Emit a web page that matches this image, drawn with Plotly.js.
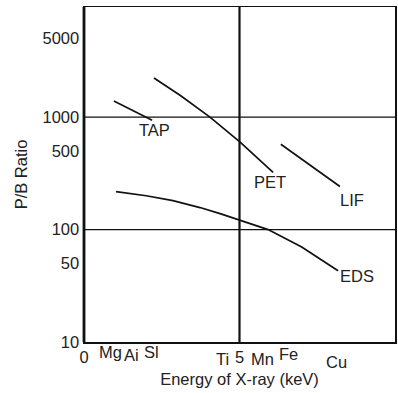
<!DOCTYPE html>
<html><head><meta charset="utf-8">
<script src="https://cdn.plot.ly/plotly-3.0.1.min.js"></script>
<style>html,body{margin:0;padding:0;background:#fff}#c{width:398px;height:393px}</style>
</head><body><div id="c"></div>
<script>
// Data
const tapX = [0.96, 2.19];
const tapY = [1390, 940];
const petX = [2.25, 3.1, 4.05, 5.02, 6.08];
const petY = [2230, 1560, 1000, 600, 323];
const lifX = [6.33, 8.23];
const lifY = [574, 242];
const edsX = [1.03, 2.0, 2.86, 3.73, 4.4, 5.05, 5.92, 7.0, 8.17];
const edsY = [218, 200, 181, 157, 138, 120, 100, 70, 43];
const yTickVals = [10, 50, 100, 500, 1000, 5000];
const xTickVals = [0, 5, 10];
const elements = ["Mg", "Ai", "Sl", "Ti", "Mn", "Fe", "Cu"];
const elementX = [0.84, 1.54, 2.16, 4.44, 5.75, 6.56, 8.13];
const elementYOffset = [-0.030, -0.040, -0.030, -0.051, -0.051, -0.036, -0.06];
const curveLabels = ["TAP", "PET", "LIF", "EDS"];
const curveLabelX = [2.28, 5.98, 8.62, 8.78];
const curveLabelY = [766, 263, 185, 39];

const lineStyle = {color: '#111', width: 1.7};
const traces = [
  {x: tapX, y: tapY, mode: 'lines', line: lineStyle, name: 'TAP'},
  {x: petX, y: petY, mode: 'lines', line: lineStyle, name: 'PET'},
  {x: lifX, y: lifY, mode: 'lines', line: lineStyle, name: 'LIF'},
  {x: edsX, y: edsY, mode: 'lines', line: lineStyle, name: 'EDS'}
];
const fam = 'Liberation Sans, Arial, sans-serif';
const font = {family: fam, size: 16.5, color: '#222'};
const annotations = [];
elements.forEach((e, i) => annotations.push({
  x: elementX[i], y: elementYOffset[i], xref: 'x', yref: 'paper', text: e,
  showarrow: false, font: font, xanchor: 'center', yanchor: 'middle'
}));
curveLabels.forEach((t, i) => annotations.push({
  x: curveLabelX[i], y: Math.log10(curveLabelY[i]), xref: 'x', yref: 'y', text: t,
  showarrow: false, font: font, xanchor: 'center', yanchor: 'middle'
}));
const layout = {
  width: 398, height: 393,
  margin: {l: 84, r: 3, t: 7, b: 51},
  paper_bgcolor: '#fff', plot_bgcolor: '#fff',
  showlegend: false,
  font: font,
  xaxis: {range: [0, 10], tickvals: xTickVals, ticktext: xTickVals.map(String), showgrid: false,
    zeroline: false, showline: true, linecolor: '#111', linewidth: 1.5, mirror: true, ticks: '',
    tickfont: {family: fam, size: 16.5, color: '#222'},
    title: {text: 'Energy of X-ray (keV)', font: {family: fam, size: 16.5, color: '#222'}, standoff: 8}},
  yaxis: {type: 'log', range: [1, 3.98], tickvals: yTickVals, ticktext: yTickVals.map(String),
    showgrid: false, zeroline: false, showline: true, linecolor: '#111', linewidth: 1.5, mirror: true, ticks: '',
    tickfont: {family: fam, size: 16.5, color: '#222'},
    title: {text: 'P/B Ratio', font: {family: fam, size: 16.5, color: '#222'}, standoff: 10}},
  shapes: [
    {type: 'line', xref: 'paper', yref: 'y', x0: 0, x1: 1, y0: 100, y1: 100, line: {color: '#111', width: 1.3}},
    {type: 'line', xref: 'paper', yref: 'y', x0: 0, x1: 1, y0: 1000, y1: 1000, line: {color: '#111', width: 1.3}},
    {type: 'line', xref: 'x', yref: 'paper', x0: 5, x1: 5, y0: 0, y1: 1, line: {color: '#111', width: 2.2}},
    {type: 'line', xref: 'paper', yref: 'paper', x0: 0, x1: 0, y0: 0, y1: 1, line: {color: '#111', width: 2.8}}
  ],
  annotations: annotations
};
Plotly.newPlot('c', traces, layout, {staticPlot: true, displayModeBar: false});
</script></body></html>
